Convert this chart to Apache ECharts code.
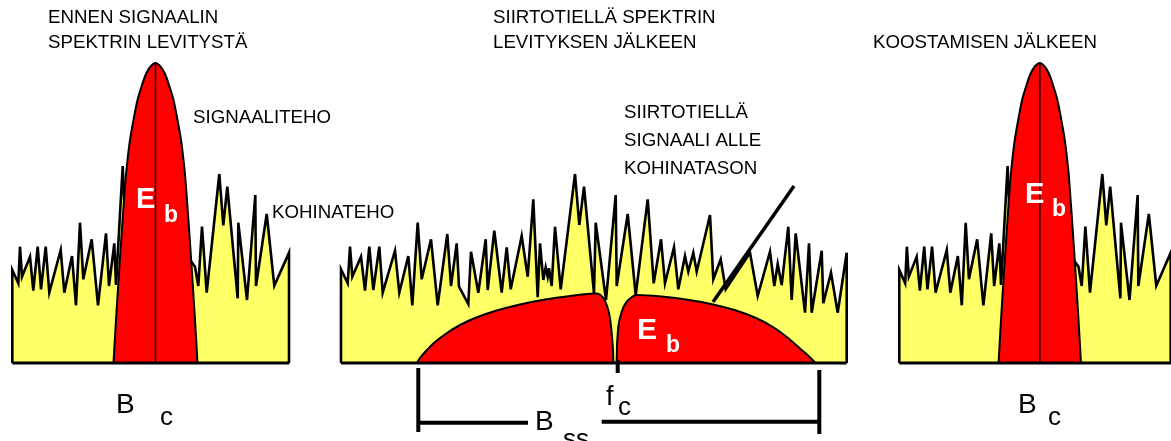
<!DOCTYPE html>
<html>
<head>
<meta charset="utf-8">
<script src="https://cdn.jsdelivr.net/npm/echarts@6/dist/echarts.min.js"></script>
<style>
  html, body { margin: 0; padding: 0; background: #fff; }
  #chart { width: 1171px; height: 441px; }
</style>
</head>
<body>
<div id="chart"></div>
<script>
// Spectrum sketches: [frequency offset, power] pairs, power measured above the noise floor line.

// Noise spectrum before spreading / after despreading (same noise in both)
const noiseNarrow = [
  [0, 0], [0, 93], [1.7, 94], [6, 79.7], [7.7, 116.3], [9.7, 86.3], [17.7, 106.3], [21, 72.3],
  [25.4, 116.3], [28.7, 73.7], [33.4, 116.3], [37, 70.3], [48.4, 113], [52, 70.3], [59.7, 107],
  [63.7, 57.7], [67.7, 140.3], [71, 83.7], [79.4, 123.7], [85.7, 57.7], [93.7, 129.7], [96.7, 77],
  [102, 119.7], [103.7, 78], [110.4, 197], [115.7, 73], [177.7, 103], [182.7, 96.3], [186, 77],
  [189.7, 136.3], [194.4, 70.3], [207, 189], [211, 137.7], [215, 176.3], [225.4, 64.7], [226, 140.3],
  [234.7, 63], [243, 168], [243.7, 77], [254.4, 149], [262, 77.3], [276.7, 110.3], [276.7, 0]
];

// Narrow signal spectrum (peak at 300)
const signalNarrow = [
  [101.2, 0], [103.7, 43], [108.2, 113], [113.2, 183], [115.2, 203], [117.7, 223], [121.2, 243],
  [125.2, 263], [129.7, 278], [133.7, 289], [138.2, 296.5], [143.2, 300], [148.2, 296.5], [152.7, 289],
  [156.7, 278], [161.2, 263], [165.2, 243], [168.7, 223], [171.2, 203], [173.2, 183], [178.2, 113],
  [182.7, 43], [185.2, 0]
];
const signalCenter = [[143.2, 0], [143.2, 300]];

// Noise on the channel while the spread signal is transmitted
const noiseChannel = [
  [0, 0], [0, 93.7], [6.7, 79.7], [9, 116.3], [11.3, 86.3], [20, 106.3], [24, 72.3], [28.3, 116.3],
  [32.3, 73], [38.3, 116.3], [41.7, 70.3], [54, 112.3], [58.3, 70.3], [67.3, 107], [71.3, 57.7],
  [76.7, 140.3], [80.7, 83.7], [90, 123.7], [96.7, 57.7], [106.3, 129], [110, 77], [115.7, 119.7],
  [118, 76.3], [127.3, 59], [130, 111.3], [137.3, 70.3], [144.7, 123.7], [146.7, 73], [153.3, 132.3],
  [160.7, 70.3], [165.7, 115.7], [169.7, 73.7], [180.7, 127], [186.7, 86.3], [192.3, 163.7],
  [196.7, 65.7], [199, 119.7], [202.3, 83], [204.7, 95.7], [206.7, 86.3], [208, 94.7], [210.7, 77],
  [214, 136.3], [219.7, 73.7], [234, 189], [238.3, 138], [243, 176.3], [253, 69.7], [254.7, 140.3],
  [265, 63], [274.7, 168], [275.7, 77], [286.7, 149], [294.7, 68], [306.7, 163.7], [312.7, 79.7],
  [320, 123.7], [324, 79.7], [333, 115.7], [337.3, 73.7], [344, 107], [347.3, 91.3], [352.3, 110.3],
  [355.7, 91.3], [369, 148], [372.3, 83.7], [379.7, 103.7], [384.7, 73.7], [409, 110.3], [416.7, 67],
  [429, 111.3], [433.3, 77], [436.7, 99], [440.7, 78], [447.3, 136.3], [450.7, 63], [454.7, 129.7],
  [464, 50.3], [468, 119.7], [470.7, 50.3], [480.7, 112.3], [482.3, 59.7], [490, 90.3], [496.7, 50.3],
  [505.7, 110.3], [505.7, 0]
];

// Spread signal, lower and upper halves around the carrier
const spreadLower = [
  [75.7, 0], [79, 5], [85, 12], [94, 21], [106, 30], [119, 38], [134, 45], [154, 52], [179, 58.5],
  [204, 63.5], [229, 67], [254, 69.5], [259, 68.5], [264, 62], [268, 50], [270.7, 30], [272.3, 3], [272.3, 0]
];
const spreadUpper = [
  [275.7, 0], [275.7, 3], [277.3, 36.3], [280.7, 51.3], [285.7, 61.3], [292.3, 67], [295.7, 68],
  [320, 66.5], [345, 63.5], [370, 59], [395, 52.5], [415, 45], [432, 36], [447, 25], [459, 14.5],
  [468, 6.5], [474.7, 0]
];

// Carrier frequency, spread bandwidth and pointer to the spread signal
const carrierFreq = 276.7;
const bssStart = 77.3;
const bssEnd = 478.3;
const pointer = [[453, 177], [372, 61]];

const panelWidths = [277, 505.7, 277];
const panelLefts = [12.3, 341, 899.3];

const chart = echarts.init(document.getElementById('chart'), null, { renderer: 'canvas' });

const grids = panelLefts.map((l, i) => ({ left: l, width: panelWidths[i], top: 0, height: 441 }));
const xAxes = panelWidths.map((w, i) => ({ type: 'value', gridIndex: i, min: 0, max: w, show: false }));
const yAxes = panelWidths.map((w, i) => ({ type: 'value', gridIndex: i, min: -78, max: 363, show: false }));

const YELLOW = '#FFFF66';
const RED = '#FF0000';

function noiseSeries(idx, data) {
  return {
    type: 'line', xAxisIndex: idx, yAxisIndex: idx, data, symbol: 'none', z: 1,
    lineStyle: { color: '#000', width: 2.6, join: 'miter', miterLimit: 6 },
    areaStyle: { color: YELLOW, opacity: 1 }, clip: false, silent: true
  };
}
function redSeries(idx, data, smooth) {
  return {
    type: 'line', xAxisIndex: idx, yAxisIndex: idx, data, symbol: 'none', z: 3,
    smooth: smooth,
    lineStyle: { color: '#000', width: 2 },
    areaStyle: { color: RED, opacity: 1 }, clip: false, silent: true
  };
}
function strokeSeries(idx, data, width, z) {
  return {
    type: 'line', xAxisIndex: idx, yAxisIndex: idx, data, symbol: 'none', z: z || 5,
    lineStyle: { color: '#000', width: width, cap: 'butt' }, clip: false, silent: true
  };
}

const series = [
  noiseSeries(0, noiseNarrow),
  noiseSeries(1, noiseChannel),
  noiseSeries(2, noiseNarrow),
  redSeries(0, signalNarrow, 0.3),
  redSeries(2, signalNarrow, 0.3),
  redSeries(1, spreadLower, 0.3),
  redSeries(1, spreadUpper, 0.3),
  strokeSeries(0, signalCenter, 1.5, 4),
  strokeSeries(2, signalCenter, 1.5, 4),
  strokeSeries(0, [[0, 0], [panelWidths[0], 0]], 3),
  strokeSeries(1, [[0, 0], [panelWidths[1], 0]], 3),
  strokeSeries(2, [[0, 0], [panelWidths[2], 0]], 3),
  strokeSeries(1, pointer, 3.5, 6),
  strokeSeries(1, [[carrierFreq, 3], [carrierFreq, -10]], 4),
  strokeSeries(1, [[bssStart, -5], [bssStart, -69]], 4),
  strokeSeries(1, [[bssEnd, -7], [bssEnd, -71]], 4),
  strokeSeries(1, [[bssStart, -59.7], [187, -59.7]], 4),
  strokeSeries(1, [[260.7, -58.7], [bssEnd, -58.7]], 4)
];

const FONT = '"Liberation Sans", Arial, sans-serif';
function txt(x, y, text, size, opts) {
  opts = opts || {};
  return {
    type: 'text', x, y, z: 100, silent: true,
    style: {
      text, fill: opts.fill || '#000',
      font: (opts.bold ? 'bold ' : '') + size + 'px ' + FONT,
      verticalAlign: 'middle', textAlign: 'left'
    }
  };
}

const LBL = 18.7;
const graphic = [
  txt(48, 18, 'ENNEN SIGNAALIN', LBL),
  txt(48, 43, 'SPEKTRIN LEVITYSTÄ', LBL),
  txt(493, 18, 'SIIRTOTIELLÄ SPEKTRIN', LBL),
  txt(493, 43, 'LEVITYKSEN JÄLKEEN', LBL),
  txt(873, 43, 'KOOSTAMISEN JÄLKEEN', LBL),
  txt(193, 118, 'SIGNAALITEHO', LBL),
  txt(272, 213, 'KOHINATEHO', LBL),
  txt(624, 113, 'SIIRTOTIELLÄ', LBL),
  txt(624, 141, 'SIGNAALI ALLE', LBL),
  txt(624, 169, 'KOHINATASON', LBL),
  txt(136, 200, 'E', 29, { bold: true, fill: '#fff' }),
  txt(164, 216, 'b', 23, { bold: true, fill: '#fff' }),
  txt(637, 331, 'E', 30, { bold: true, fill: '#fff' }),
  txt(666, 346, 'b', 23, { bold: true, fill: '#fff' }),
  txt(1025, 195, 'E', 29, { bold: true, fill: '#fff' }),
  txt(1052, 210, 'b', 23, { bold: true, fill: '#fff' }),
  txt(116, 405, 'B', 28),
  txt(160, 418, 'c', 26),
  txt(1018, 405, 'B', 28),
  txt(1048, 418, 'c', 26),
  txt(606, 398, 'f', 27),
  txt(618, 408, 'c', 26),
  txt(535, 422, 'B', 28),
  txt(563, 440, 'ss', 26)
];

chart.setOption({
  animation: false,
  backgroundColor: '#fff',
  grid: grids,
  xAxis: xAxes,
  yAxis: yAxes,
  series,
  graphic
});
</script>
</body>
</html>
